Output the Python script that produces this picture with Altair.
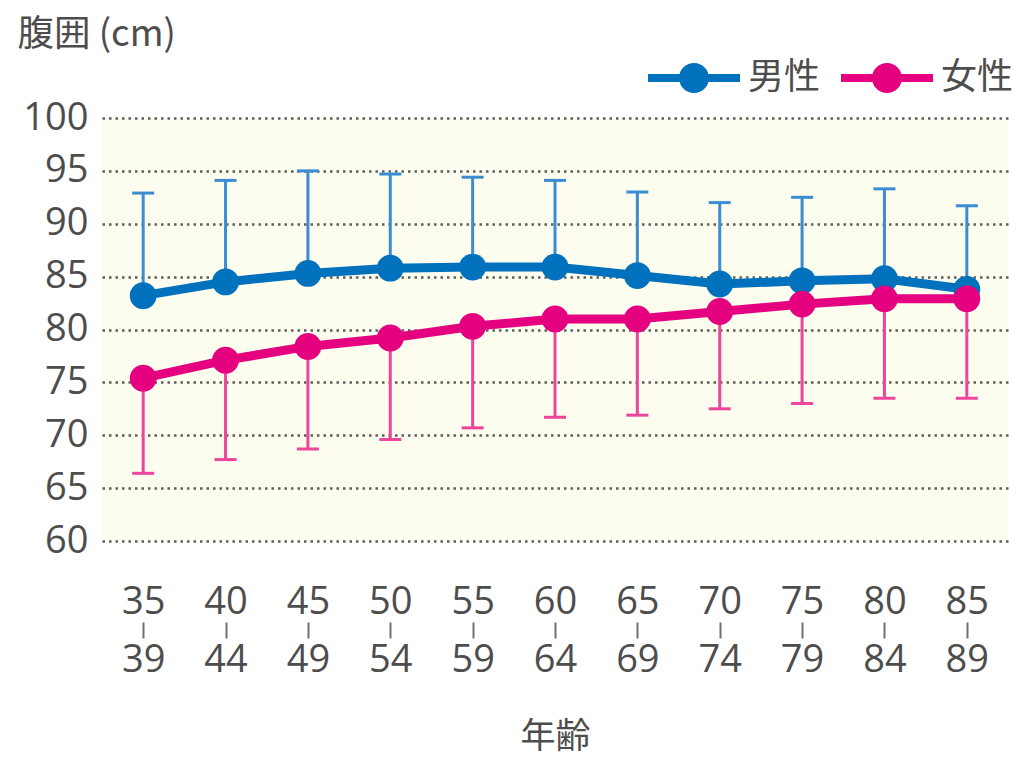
import altair as alt
import pandas as pd

# Waist circumference by age group: mean with one-sided SD whiskers
age_groups = ["35-39", "40-44", "45-49", "50-54", "55-59", "60-64",
              "65-69", "70-74", "75-79", "80-84", "85-89"]
male_mean = [83.2, 84.5, 85.3, 85.8, 85.9, 85.9, 85.1, 84.3, 84.6, 84.8, 83.8]
male_upper = [92.9, 94.1, 95.0, 94.7, 94.4, 94.1, 93.0, 92.0, 92.5, 93.3, 91.7]
female_mean = [75.4, 77.1, 78.4, 79.2, 80.3, 81.0, 81.0, 81.7, 82.4, 82.9, 82.9]
female_lower = [66.4, 67.7, 68.7, 69.6, 70.7, 71.7, 71.9, 72.5, 73.0, 73.5, 73.5]

sexes = ["男性", "女性"]
line_colors = ["#0071bc", "#e4007f"]
whisker_colors = ["#3b8dd1", "#ee459c"]

rows = []
for a, m, u in zip(age_groups, male_mean, male_upper):
    rows.append({"sex": "男性", "age": a, "mean": m, "end": u})
for a, m, l in zip(age_groups, female_mean, female_lower):
    rows.append({"sex": "女性", "age": a, "mean": m, "end": l})
df = pd.DataFrame(rows)

TEXT = "#4d4d4d"
NUM_FONT = "Open Sans"
JP_FONT = "Noto Sans CJK JP"

x_enc = alt.X(
    "age:N",
    sort=age_groups,
    scale=alt.Scale(type="point", padding=0.5),
    axis=alt.Axis(
        orient="bottom", offset=81, domain=False, grid=False,
        ticks=True, tickSize=16, tickWidth=2, tickColor="#707070",
        labelExpr="split(datum.label, '-')",
        labelFont=NUM_FONT, labelFontSize=38, labelLineHeight=58,
        labelBaseline="top", labelPadding=-55, labelAngle=0,
        labelOverlap=False, labelColor=TEXT,
        title="年齢", titleFont=JP_FONT, titleFontSize=35,
        titleFontWeight="normal", titleColor=TEXT,
        titleBaseline="alphabetic", titleY=125,
    ),
)

y_scale = alt.Scale(domain=[60, 100], nice=False, zero=False)
y_enc = alt.Y(
    "mean:Q",
    scale=y_scale,
    axis=alt.Axis(
        values=list(range(60, 101, 5)), domain=False, ticks=False,
        grid=True, gridDash=[2.5, 4], gridColor="#5e5e5e", gridWidth=2.5,
        labelFont=NUM_FONT, labelFontSize=38, labelColor=TEXT, labelPadding=14,
        title="腹囲 (cm)", titleAngle=0, titleAlign="left",
        titleBaseline="alphabetic", titleX=-85, titleY=-73,
        titleFont=JP_FONT, titleFontSize=36.5, titleFontWeight="normal",
        titleColor=TEXT,
    ),
)

# Legend glyph: a bar with a dot in the middle
legend_path = ("M-1,-0.087 H1 V0.087 H-1 Z "
               "M-0.326,0 A0.326,0.326 0 1,1 0.326,0 "
               "A0.326,0.326 0 1,1 -0.326,0 Z")

color_enc = alt.Color(
    "sex:N",
    scale=alt.Scale(domain=sexes, range=line_colors),
    legend=alt.Legend(
        title=None, orient="none", legendX=546, legendY=-86,
        direction="horizontal", padding=0,
        symbolType=legend_path, symbolSize=8464, symbolStrokeWidth=0,
        symbolOpacity=1,
        labelFont=JP_FONT, labelFontSize=36, labelColor=TEXT,
        labelOffset=8, columnPadding=20,
    ),
)

base = alt.Chart(df)
layers = []
for sex, lc, wc in zip(sexes, line_colors, whisker_colors):
    sub = base.transform_filter(alt.datum.sex == sex)
    whisker = sub.mark_rule(color=wc, strokeWidth=3).encode(
        x=x_enc, y=y_enc, y2="end:Q")
    cap = sub.mark_tick(color=wc, thickness=3, size=22, opacity=1).encode(
        x=x_enc, y=alt.Y("end:Q", scale=y_scale))
    line = sub.mark_line(color=lc, strokeWidth=9).encode(x=x_enc, y=y_enc)
    dots = sub.mark_circle(size=720, opacity=1).encode(
        x=x_enc, y=y_enc, color=color_enc)
    layers += [whisker, cap, line, dots]

chart = alt.layer(*layers).properties(
    width=906,
    height=423,
    autosize=alt.AutoSizeParams(type="none"),
    padding={"left": 102, "top": 118, "right": 10, "bottom": 216},
    background="white",
).configure_view(
    fill="#fcfcef", strokeOpacity=0
)

chart.save("out.html", embed_options={"renderer": "svg", "actions": False})
